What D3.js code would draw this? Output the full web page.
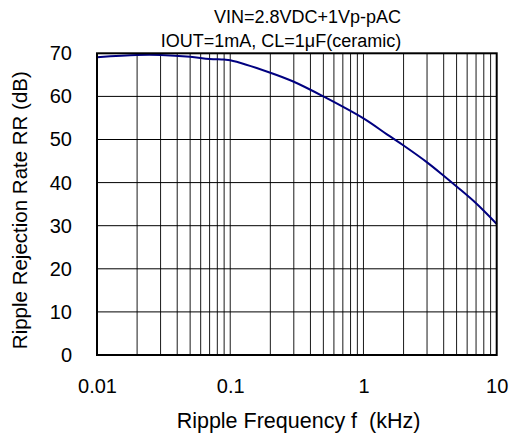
<!DOCTYPE html>
<html><head><meta charset="utf-8">
<script src="https://cdn.jsdelivr.net/npm/d3@7"></script>
<style>body{margin:0;background:#fff}svg{display:block}text{font-family:"Liberation Sans",Arial,sans-serif;fill:#000;white-space:pre}</style>
</head><body>
<script>
const freq = [0.01, 0.02, 0.03, 0.05, 0.07, 0.09, 0.1, 0.2, 0.3, 0.5, 1, 1.5, 2, 3, 4, 5, 7, 10];
const rr   = [69.1, 69.6, 69.6, 69.2, 68.7, 68.55, 68.4, 65.5, 63.4, 60.0, 54.9, 51.2, 48.6, 44.7, 41.6, 39.1, 35.2, 30.4];
const xTicks = [0.01, 0.1, 1, 10];
const xTickLabels = ["0.01", "0.1", "1", "10"];
const yTicks = [0, 10, 20, 30, 40, 50, 60, 70];
const titleLines = ["VIN=2.8VDC+1Vp-pAC", "IOUT=1mA, CL=1\u03bcF(ceramic)"];
const xTitle = "Ripple Frequency f  (kHz)";
const yTitle = "Ripple Rejection Rate RR (dB)";

const W = 511, H = 439;
const m = {l: 97, r: 14.3, t: 53.3, b: 84};
const svg = d3.select("body").append("svg").attr("width", W).attr("height", H);
const x = d3.scaleLog().domain([0.01, 10]).range([m.l, W - m.r]);
const y = d3.scaleLinear().domain([0, 70]).range([H - m.b, m.t]);

// minor/major vertical grid
const vgrid = [];
for (let d = 0.01; d < 10; d *= 10) for (let k = 1; k <= 9; k++) vgrid.push(+(d * k).toPrecision(3));
svg.append("g").selectAll("line").data(vgrid.filter(v => v > 0.01)).join("line")
  .attr("x1", d => x(d)).attr("x2", d => x(d)).attr("y1", y(0)).attr("y2", y(70))
  .attr("stroke", "#1a1a1a").attr("stroke-width", 1);
svg.append("g").selectAll("line").data(yTicks.slice(1, -1)).join("line")
  .attr("x1", x(0.01)).attr("x2", x(10)).attr("y1", d => y(d)).attr("y2", d => y(d))
  .attr("stroke", "#000").attr("stroke-width", 1);

// curve
const pts = freq.map((f, i) => [f, rr[i]]);
svg.append("path").datum(pts)
  .attr("d", d3.line().x(d => x(d[0])).y(d => y(d[1])).curve(d3.curveCatmullRom.alpha(0.5)))
  .attr("fill", "none").attr("stroke", "#000080").attr("stroke-width", 2);

// frame
svg.append("rect").attr("x", x(0.01)).attr("y", y(70)).attr("width", x(10) - x(0.01)).attr("height", y(0) - y(70))
  .attr("fill", "none").attr("stroke", "#000").attr("stroke-width", 2);

// axes labels
const xAxis = d3.axisBottom(x).tickValues(xTicks).tickFormat((d, i) => xTickLabels[i]).tickSize(0).tickPadding(24);
const gx = svg.append("g").attr("transform", `translate(0,${y(0)})`).call(xAxis);
gx.select(".domain").remove();
gx.selectAll("text").attr("font-size", 20).attr("font-family", "Liberation Sans, Arial, sans-serif").attr("fill", "#000");

const yAxis = d3.axisLeft(y).tickValues(yTicks).tickSize(0).tickPadding(25);
const gy = svg.append("g").attr("transform", `translate(${x(0.01)},0)`).call(yAxis);
gy.select(".domain").remove();
gy.selectAll("text").attr("font-size", 20).attr("font-family", "Liberation Sans, Arial, sans-serif").attr("fill", "#000");

svg.append("text").attr("x", 298.5).attr("y", 428).attr("text-anchor", "middle").attr("font-size", 21.5).text(xTitle);
svg.append("text").attr("transform", `translate(27,${(y(0)+y(70))/2 + 6}) rotate(-90)`).attr("text-anchor", "middle").attr("font-size", 20.5).text(yTitle);

svg.append("text").attr("x", 307.5).attr("y", 23).attr("text-anchor", "middle").attr("font-size", 18).text(titleLines[0]);
svg.append("text").attr("x", 281).attr("y", 46.5).attr("text-anchor", "middle").attr("font-size", 18).text(titleLines[1]);
</script>
</body></html>
